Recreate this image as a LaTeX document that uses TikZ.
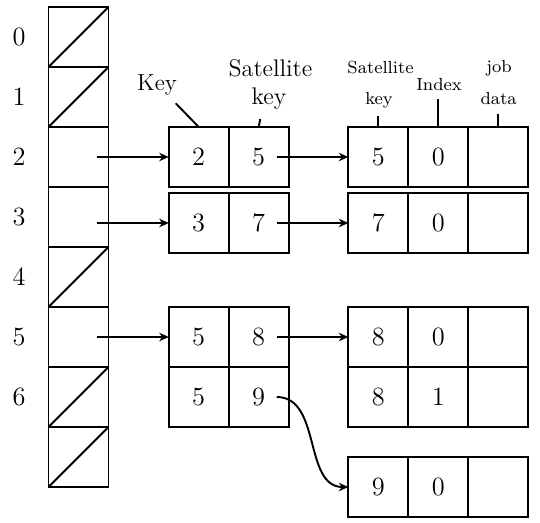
\documentclass[tikz,border=0pt]{standalone}
\usetikzlibrary{arrows.meta,calc}
\begin{document}
\begin{tikzpicture}[x=0.0166667cm,y=-0.0166667cm,
  cell/.style={draw, line width=0.9pt, minimum width=1cm, minimum height=1cm,
    inner sep=0pt, outer sep=0pt, font=\fontsize{12.5}{15}\selectfont},
  idx/.style={inner sep=0pt, font=\fontsize{12.5}{15}\selectfont},
  lbl/.style={font=\fontsize{11.4}{13.5}\selectfont, inner sep=0pt, anchor=base},
  sml/.style={font=\fontsize{8.3}{10}\selectfont, inner sep=0pt, anchor=base},
  arr/.style={line width=0.9pt, -{Stealth[length=4.5pt,width=4pt]}},
  tick/.style={line width=0.9pt}]
\useasboundingbox (0,0) rectangle (540,523);

% hash table column
\foreach \i in {0,...,7} {
  \node[cell] (L\i) at (78.5,{37+60*\i}) {};
}
\foreach \i in {0,...,6} {
  \node[idx] (n\i) at (19,{37+60*\i}) {\i};
}
\foreach \i in {0,1,4,6,7} {
  \draw[tick] (L\i.south west) -- (L\i.north east);
}

% middle (key, satellite key)
\node[cell] (M2a) at (198.7,157) {2};
\node[cell] (M2b) at (258.7,157) {5};
\node[cell] (M3a) at (198.7,223) {3};
\node[cell] (M3b) at (258.7,223) {7};
\node[cell] (M5a) at (198.7,337) {5};
\node[cell] (M5b) at (258.7,337) {8};
\node[cell] (M6a) at (198.7,397) {5};
\node[cell] (M6b) at (258.7,397) {9};

% right (satellite key, index, job data)
\node[cell] (R2a) at (378.3,157) {5};
\node[cell] (R2b) at (438.3,157) {0};
\node[cell] (R2c) at (498.3,157) {};
\node[cell] (R3a) at (378.3,223) {7};
\node[cell] (R3b) at (438.3,223) {0};
\node[cell] (R3c) at (498.3,223) {};
\node[cell] (R5a) at (378.3,337) {8};
\node[cell] (R5b) at (438.3,337) {0};
\node[cell] (R5c) at (498.3,337) {};
\node[cell] (R6a) at (378.3,397) {8};
\node[cell] (R6b) at (438.3,397) {1};
\node[cell] (R6c) at (498.3,397) {};
\node[cell] (R7a) at (378.3,487) {9};
\node[cell] (R7b) at (438.3,487) {0};
\node[cell] (R7c) at (498.3,487) {};

% arrows
\draw[arr] ($(L2.center |- M2a.west)+(18,0)$) -- (M2a.west);
\draw[arr] ($(L3.center |- M3a.west)+(18,0)$) -- (M3a.west);
\draw[arr] ($(L5.center |- M5a.west)+(18,0)$) -- (M5a.west);
\draw[arr] ($(M2b.center)+(18,0)$) -- (R2a.west);
\draw[arr] ($(M3b.center)+(18,0)$) -- (R3a.west);
\draw[arr] ($(M5b.center)+(18,0)$) -- (R5a.west);
\draw[arr] ($(M6b.center)+(18,0)$) to[out=0,in=180] (R7a.west);

% labels
\node[lbl, font=\fontsize{11}{13.5}\selectfont] (key) at (157,91) {Key};
\coordinate (keyend) at (175.7,103.3);
\draw[tick] (keyend) -- (M2a.north);
\node[lbl] (sat1) at (270.5,76.7) {Satellite};
\node[lbl] (sat2) at (269,105) {key};
\coordinate (satend) at (260.3,119);
\draw[tick] (satend) -- (M2b.north);

\node[sml] (rs1) at (380.5,73.3) {Satellite};
\node[sml] (rs2) at (379,105) {key};
\node[sml] (ri) at (439,91) {Index};
\node[sml] (rj1) at (499,73) {job};
\node[sml] (rj2) at (498.7,105) {data};
\coordinate (t1) at (378.3,116);
\coordinate (t2) at (438.3,99.3);
\coordinate (t3) at (498.3,114);
\draw[tick] (R2a.north) -- (t1);
\draw[tick] (R2b.north) -- (t2);
\draw[tick] (R2c.north) -- (t3);
\end{tikzpicture}
\end{document}
